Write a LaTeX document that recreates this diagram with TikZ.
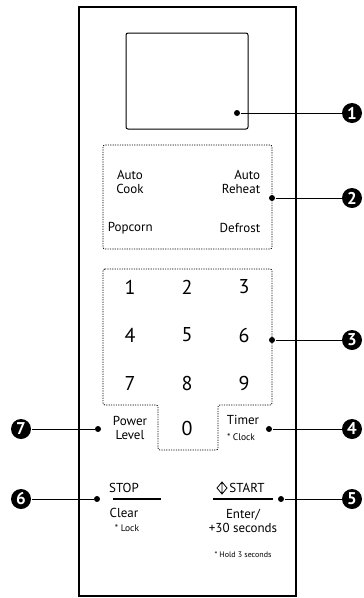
\documentclass[tikz,border=0pt]{standalone}
\usepackage{fontspec}
\setmainfont{PT Sans}
\begin{document}
\begin{tikzpicture}[x=1pt, y=-1pt, line width=1pt,
	badge/.style={circle, fill=black, text=white, inner sep=0pt, minimum size=20pt, font=\bfseries\fontsize{17}{17}\selectfont},
	pt/.style={circle, fill=black, inner sep=0pt, minimum size=6pt},
	key/.style={font=\fontsize{13}{14.5}\selectfont, align=center},
	digit/.style={font=\fontsize{20}{20}\selectfont},
	note/.style={font=\fontsize{9.5}{10}\selectfont},
	dots/.style={dash pattern=on 1.2pt off 1.2pt, line width=0.8pt, rounded corners=2pt}]
\useasboundingbox (0,0) rectangle (364,598);
% panel and display
\draw[line width=1.3pt] (79,7) rectangle (296,596);
\draw[rounded corners=2pt] (126,33) rectangle (248,129);
% key groups
\draw[dots] (103,145) rectangle (272,249);
\draw[dots] (103,269) -- (272,269) -- (272,405) -- (218,405) -- (218,450) -- (158,450) -- (158,405) -- (103,405) -- cycle;
\node[key] (acook) at (130,182) {Auto\\Cook};
\node[key, align=right, anchor=east] (areheat) at (264,182) {Auto\\Reheat};
\node[key, anchor=west] (popcorn) at (104,228) {Popcorn};
\node[key, anchor=east] (defrost) at (264,228) {Defrost};
\foreach \d [count=\i from 0] in {1,...,9}
	\node[digit] (k\d) at ({130+57*mod(\i,3)},{287+48*int(\i/3)}) {\d};
\node[digit] (k0) at (187,428) {0};
\node[key] (power) at (130,428) {Power\\Level};
\node[key] (timer) at (243,420) {Timer};
\node[note] (clock) at (241,437) {* Clock};
% stop / start
\node[key] (stop) at (124,488) {STOP};
\node[key] (clear) at (124,513) {Clear};
\node[note] (lock) at (127,528) {* Lock};
\node[key] (start) at (247,488) {START};
\draw[line width=0.8pt] (222,482) -- (227,488) -- (222,494) -- (217,488) -- cycle (222,482) -- (222,494);
\coordinate (sl) at (113,499); \coordinate (sr) at (161,499);
\coordinate (tl) at (213,499); \coordinate (tr) at (273,499);
\draw[line width=1.3pt] (sl) -- (sr) (tl) -- (tr);
\node[key] (enter) at (243,521) {Enter/\\+30 seconds};
\node[note, font=\fontsize{8}{9}\selectfont] (hold) at (243,555) {* Hold 3 seconds};
% callouts
\node[pt] (d1) at (237,113) {}; \node[badge] (b1) at (352,113) {1};
\node[pt] (d2) at (272,198) {}; \node[badge] (b2) at (352,198) {2};
\node[pt] (d3) at (272,340) {}; \node[badge] (b3) at (352,340) {3};
\node[pt] (d4) at (269,429) {}; \node[badge] (b4) at (352,429) {4};
\node[pt] (d5) at (281,499) {}; \node[badge] (b5) at (352,499) {5};
\node[pt] (d6) at (97,499) {}; \node[badge] (b6) at (21,499) {6};
\node[pt] (d7) at (98,429) {}; \node[badge] (b7) at (21,429) {7};
\foreach \n in {1,...,7}
	\draw (d\n) -- (b\n);
\end{tikzpicture}
\end{document}
